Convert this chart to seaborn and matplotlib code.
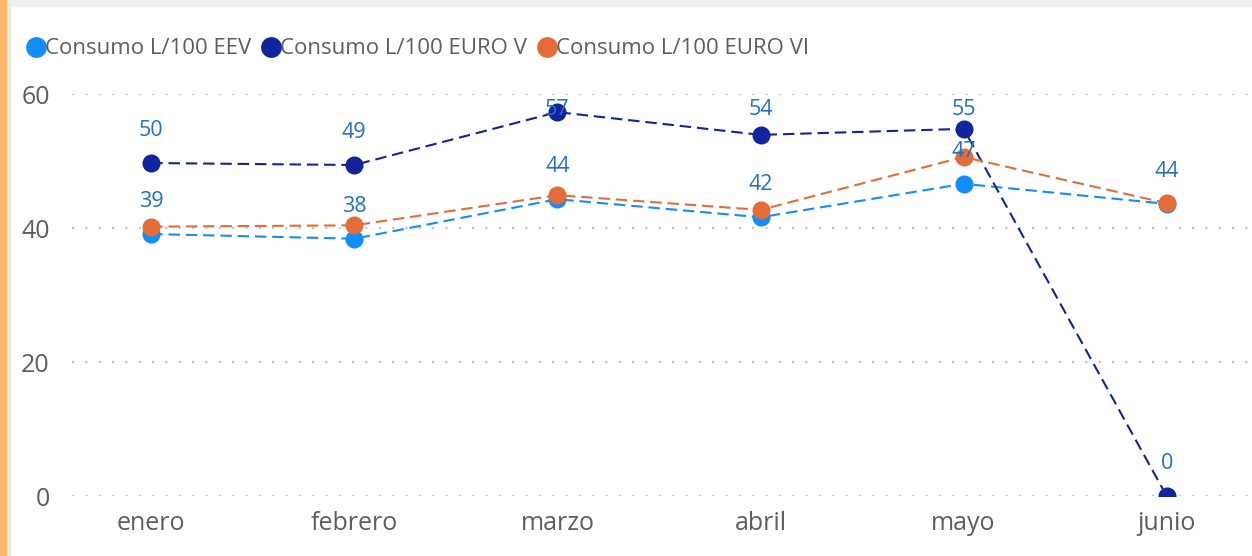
import matplotlib
matplotlib.use("Agg")
import matplotlib.pyplot as plt
import seaborn as sns
import numpy as np
import pandas as pd
from matplotlib.lines import Line2D
from matplotlib.patches import Rectangle

months = ["enero", "febrero", "marzo", "abril", "mayo", "junio"]
eev = [39.1, 38.4, 44.3, 41.6, 46.6, 43.6]
euro_v = [49.7, 49.4, 57.3, 53.9, 54.8, 0.0]
euro_vi = [40.2, 40.4, 44.9, 42.7, 50.6, 43.7]
series_names = ["Consumo L/100 EEV", "Consumo L/100 EURO V", "Consumo L/100 EURO VI"]
colors = ["#118DFF", "#12239E", "#E66C37"]
yticks = [0, 20, 40, 60]

sns.set_theme(style="white")
plt.rcParams["font.family"] = ["Open Sans", "DejaVu Sans"]

fig = plt.figure(figsize=(12.52, 5.56), dpi=100)
fig.patch.set_facecolor("white")
# decorations: top grey strip, left orange/grey strip
fig.add_artist(Rectangle((0, 1 - 6 / 556), 1, 6 / 556, transform=fig.transFigure, color="#F0F0F0", zorder=0))
fig.add_artist(Rectangle((0, 0), 10 / 1252, 1, transform=fig.transFigure, color="#EBEBEB", zorder=1))
fig.add_artist(Rectangle((0, 0), 6 / 1252, 1, transform=fig.transFigure, color="#FDB56B", zorder=2))

ax = fig.add_axes([72 / 1252, 60 / 556, (1252 - 72) / 1252, 402 / 556])
ax.set_facecolor("none")

x = np.arange(len(months))
data = pd.DataFrame({
    "mes": np.tile(x, 3),
    "valor": eev + euro_v + euro_vi,
    "serie": np.repeat(series_names, len(months)),
})

order_draw = [1, 0, 2]
for i in order_draw:
    name = series_names[i]
    sub = data[data["serie"] == name]
    sns.lineplot(data=sub, x="mes", y="valor", ax=ax, color=colors[i],
                 linewidth=1.5, marker="o", markersize=13, markeredgewidth=0,
                 zorder=3 + i)
    ax.lines[-1].set_linestyle((0, (5.5, 2.8)))

# data labels (EEV and EURO V shown); Power BI keeps them inside the plot area
label_color = "#1F72C8"
units_per_px = 60 / 402
for vals in [eev, euro_v]:
    for xi, v in zip(x, vals):
        ly = min(v + 32.5 * units_per_px, 57.7)
        ax.text(xi, ly, f"{v:.0f}", ha="center", va="center", color=label_color,
                fontsize=15.5, zorder=10, clip_on=False)

ax.set_ylim(0, 60)
ax.set_xlim(-0.39, 5.42)
ax.set_yticks(yticks)
ax.set_xticks(x)
ax.set_xticklabels(months)
ax.set_xlabel("")
ax.set_ylabel("")
ax.tick_params(axis="both", length=0, labelsize=18, colors="#605E5C")
ax.tick_params(axis="x", pad=11)
ax.tick_params(axis="y", pad=16)
ax.yaxis.grid(True, color="#C8C6C4", linestyle=(0, (1, 5)), linewidth=1.6)
ax.xaxis.grid(False)
for s in ax.spines.values():
    s.set_visible(False)
if ax.get_legend():
    ax.get_legend().remove()

handles = [Line2D([], [], linestyle="none", marker="o", markersize=15, markeredgewidth=0, color=c)
           for c in colors]
fig.legend(handles, series_names, loc="center left", bbox_to_anchor=(14 / 1252, 1 - 49 / 556),
           ncol=3, frameon=False, handletextpad=-0.2, columnspacing=0.3, handlelength=1.2,
           fontsize=16, labelcolor="#605E5C", borderaxespad=0)

fig.savefig("out.png", dpi=100)
